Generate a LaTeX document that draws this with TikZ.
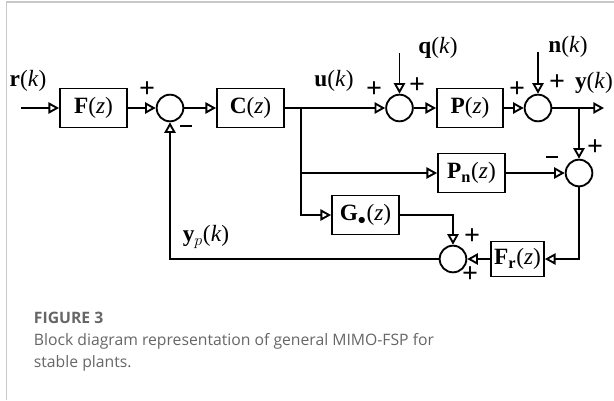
\documentclass[tikz,border=0pt]{standalone}
\usepackage{fontspec}
\setmainfont{Liberation Serif}
\newfontfamily\capfont{Open Sans}
\usetikzlibrary{arrows.meta}
\definecolor{capgray}{HTML}{666666}
\definecolor{framegray}{HTML}{C8C8C8}
\tikzset{every picture/.style={line width=1.4pt}}
\newcommand{\minussign}{\rule{8.5pt}{1.5pt}}

\begin{document}
\begin{tikzpicture}[x=0.75pt,y=0.75pt,yscale=-1,xscale=1,
	font=\fontsize{17.5}{20}\selectfont,
	tip/.style={-{Triangle[open,length=8pt,width=8.5pt]}},
	blk/.style={draw,minimum width=50.25pt,minimum height=29.25pt,inner sep=0pt},
	sumnode/.style={draw,circle,minimum size=20pt,inner sep=0pt},
	sign/.style={inner sep=0pt,font=\fontsize{21}{24}\selectfont\bfseries}]
	\useasboundingbox (0,0) rectangle (614,400);
	%frame
	\draw [framegray,line width=0.9pt] (6.5,400) -- (6.5,2) -- (614,2) ;
	
	%Blocks
	\node [blk] (F) at (93.5,108) {\textbf{F}(\textit{z})};
	\node [blk] (C) at (250.5,108) {\textbf{C}(\textit{z})};
	\node [blk,minimum width=49.5pt] (P) at (470,108) {\textbf{P}(\textit{z})};
	\node [blk] (Pn) at (471.5,173) {\textbf{P}$_{\mathbf{n}}$(\textit{z})};
	\node [blk] (G) at (365.5,215) {\textbf{G}$_{\bullet}$(\textit{z})};
	\node [blk,minimum width=39.75pt,minimum height=26.25pt] (Fr) at (517.5,259) {\textbf{F}$_{\mathbf{r}}$(\textit{z})};
	
	%Summing junctions
	\node [sumnode] (s1) at (170,108) {};
	\node [sumnode] (s2) at (399.5,108) {};
	\node [sumnode] (s3) at (538,108) {};
	\node [sumnode] (s4) at (579,173) {};
	\node [sumnode] (s5) at (453,259) {};
	
	%Free ends and branch points
	\coordinate (rin) at (21,108) ;
	\coordinate (qin) at (399.5,53) ;
	\coordinate (nin) at (538,52) ;
	\coordinate (yout) at (604,108) ;
	\coordinate (bu) at (301,108) ;
	\coordinate (by) at (579,108) ;
	
	%Connectors
	\draw [tip] (rin) -- (F) ;
	\draw [tip] (F) -- (s1) ;
	\draw [tip] (s1) -- (C) ;
	\draw [tip] (C) -- (s2) ;
	\draw [tip] (qin) -- (s2) ;
	\draw [tip] (s2) -- (P) ;
	\draw [tip] (P) -- (s3) ;
	\draw [tip] (nin) -- (s3) ;
	\draw [tip] (s3) -- (yout) ;
	\draw [tip] (by) -- (s4) ;
	\draw [tip] (bu) |- (Pn) ;
	\draw [tip] (bu) |- (G) ;
	\draw [tip] (Pn) -- (s4) ;
	\draw [tip] (s4) |- (Fr) ;
	\draw [tip] (Fr) -- (s5) ;
	\draw [tip] (G) -| (s5) ;
	\draw [tip] (s5) -| (s1) ;
	
	% Text Node
	\node (lr) at (28,81) {\textbf{r}(\textit{k})};
	% Text Node
	\node (lu) at (334,81) {\textbf{u}(\textit{k})};
	% Text Node
	\node (lq) at (438,48) {\textbf{q}(\textit{k})};
	% Text Node
	\node (ln) at (568,47) {\textbf{n}(\textit{k})};
	% Text Node
	\node (ly) at (594,83) {\textbf{y}(\textit{k})};
	% Text Node
	\node (lyp) at (206,237) {\textbf{y}$_{p}$(\textit{k})};
	
	%Signs
	\node [sign] (p1) at (147,90) {+};
	\node [sign] (m1) at (186,126) {\minussign};
	\node [sign] (p2a) at (374,90) {+};
	\node [sign] (p2b) at (417,86) {+};
	\node [sign] (p3a) at (517,90) {+};
	\node [sign] (p3b) at (557,83) {+};
	\node [sign] (m4) at (552,157) {\minussign};
	\node [sign] (p4) at (595,148) {+};
	\node [sign] (p5a) at (472,237) {+};
	\node [sign] (p5b) at (470,275) {+};
	
	%Caption
	\node [anchor=base west,inner sep=0pt,text=capgray,font=\capfont\fontsize{11.8}{14}\selectfont\bfseries] (cap1) at (33,323) {FIGURE 3};
	\node [anchor=base west,inner sep=0pt,text=capgray,font=\capfont\fontsize{11.8}{14}\selectfont] (cap2) at (33,345) {Block diagram representation of general MIMO-FSP for};
	\node [anchor=base west,inner sep=0pt,text=capgray,font=\capfont\fontsize{11.8}{14}\selectfont] (cap3) at (33,367) {stable plants.};
\end{tikzpicture}
\end{document}
